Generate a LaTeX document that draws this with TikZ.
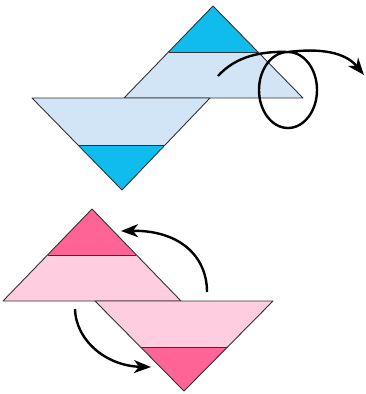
\documentclass[tikz,border=0pt]{standalone}
\usetikzlibrary{arrows.meta}
\definecolor{capblue}{HTML}{10BCEE}
\definecolor{paleblue}{HTML}{D2E5F6}
\definecolor{cappink}{HTML}{FF6496}
\definecolor{palepink}{HTML}{FFCCE0}
\definecolor{edgegray}{HTML}{333333}
\begin{document}
\begin{tikzpicture}[x=1pt,y=-1pt,
    edge/.style={draw=edgegray,line width=0.9pt,line join=round},
    turn/.style={line width=2.4pt,-{Stealth[length=17pt,width=13pt,inset=5pt]}}]
        \useasboundingbox (0,0) rectangle (365,394);
        % blue pair
        \coordinate (ba) at (213,6);
        \coordinate (bl) at (124,98);
        \coordinate (br) at (303,98);
        \fill[paleblue] (ba) -- (bl) -- (br) -- cycle;
        \fill[capblue] (ba) -- (168.5,52) -- (258,52) -- cycle;
        \draw[edge] (168.5,52) -- (258,52);
        \draw[edge] (ba) -- (bl) -- (br) -- cycle;
        \coordinate (ca) at (122,190);
        \coordinate (cl) at (32,98);
        \coordinate (cr) at (210,98);
        \fill[paleblue] (ca) -- (cl) -- (cr) -- cycle;
        \fill[capblue] (ca) -- (78,145) -- (165,145) -- cycle;
        \draw[edge] (78,145) -- (165,145);
        \draw[edge] (ca) -- (cl) -- (cr) -- cycle;
        \coordinate (flipstart) at (218,76);
        \coordinate (looptop) at (288,52);
        \coordinate (flipend) at (364,75);
        \draw[turn] (flipstart) .. controls (236,56) and (262,51) .. (looptop)
            arc[start angle=-90,end angle=270,x radius=29,y radius=38]
            .. controls (320,48) and (345,52) .. (flipend);
        % pink pair
        \coordinate (pa) at (92,209);
        \coordinate (pl) at (3,301);
        \coordinate (pr) at (181,301);
        \fill[palepink] (pa) -- (pl) -- (pr) -- cycle;
        \fill[cappink] (pa) -- (48,255) -- (136,255) -- cycle;
        \draw[edge] (48,255) -- (136,255);
        \draw[edge] (pa) -- (pl) -- (pr) -- cycle;
        \coordinate (qa) at (184,391);
        \coordinate (ql) at (95,301);
        \coordinate (qr) at (273,301);
        \fill[palepink] (qa) -- (ql) -- (qr) -- cycle;
        \fill[cappink] (qa) -- (141,347) -- (228,347) -- cycle;
        \draw[edge] (141,347) -- (228,347);
        \draw[edge] (qa) -- (ql) -- (qr) -- cycle;
        \coordinate (upstart) at (207,292);
        \coordinate (upend) at (121,231);
        \coordinate (downstart) at (75,309);
        \coordinate (downend) at (151,367);
        \draw[turn] (upstart) .. controls (207,255) and (178,230) .. (upend);
        \draw[turn] (downstart) .. controls (76,342) and (108,366) .. (downend);
    \end{tikzpicture}
\end{document}
